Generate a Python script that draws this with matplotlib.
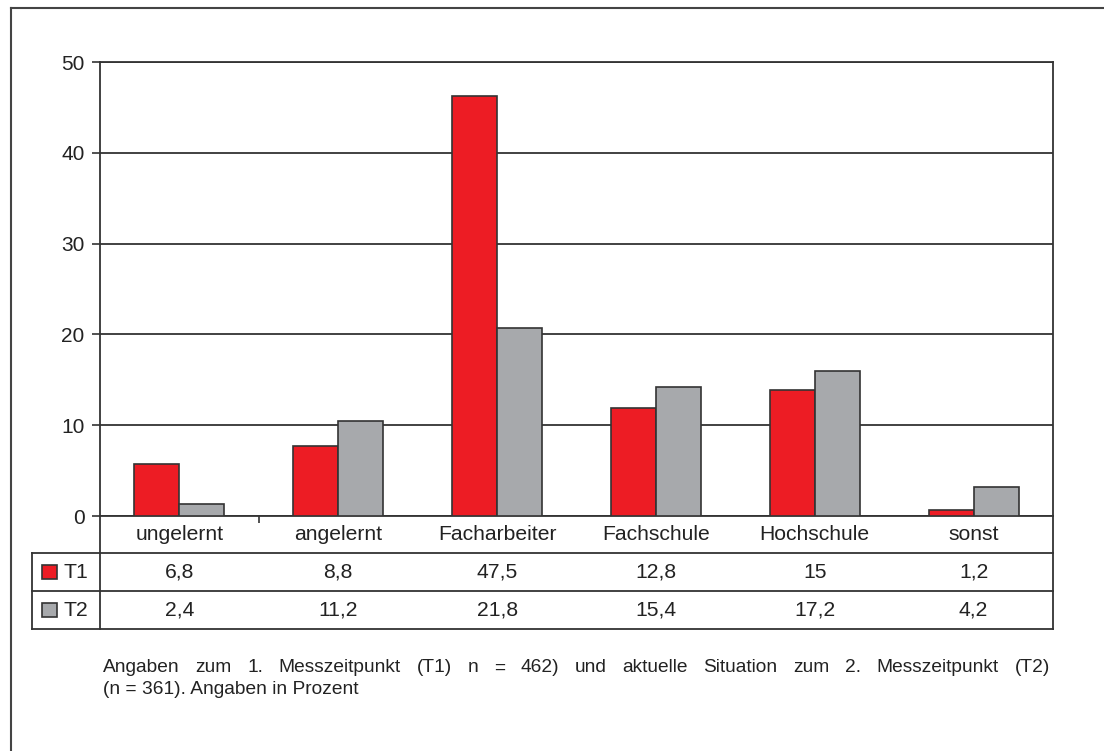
import matplotlib.pyplot as plt
from matplotlib.lines import Line2D
from matplotlib.patches import Rectangle
from matplotlib.transforms import blended_transform_factory
import numpy as np

plt.rcParams['font.family'] = ['Liberation Sans', 'DejaVu Sans']

categories = ['ungelernt', 'angelernt', 'Facharbeiter', 'Fachschule', 'Hochschule', 'sonst']
series = ['T1', 'T2']
# bar heights as drawn in the chart
t1_bars = [5.7, 7.7, 46.3, 11.9, 13.9, 0.7]
t2_bars = [1.35, 10.5, 20.7, 14.2, 16.0, 3.2]
# values printed in the data table
t1_table = [6.8, 8.8, 47.5, 12.8, 15, 1.2]
t2_table = [2.4, 11.2, 21.8, 15.4, 17.2, 4.2]
yticks = [0, 10, 20, 30, 40, 50]
caption = ['Angaben zum 1. Messzeitpunkt (T1) n = 462) und aktuelle Situation zum 2. Messzeitpunkt (T2)',
           '(n = 361). Angaben in Prozent']

red = '#ED1C24'
grey = '#A7A9AC'
edge = '#333333'
line_c = '#333333'
txt_c = '#222222'

W, H = 1104, 751
fig = plt.figure(figsize=(W / 100, H / 100), dpi=100)
ax = fig.add_axes([100 / W, 1 - 516 / H, 953 / W, 454 / H])

x = np.arange(len(categories))
bw = 0.283
ax.bar(x - bw / 2, t1_bars, bw, color=red, edgecolor=edge, linewidth=1.2, zorder=3)
ax.bar(x + bw / 2, t2_bars, bw, color=grey, edgecolor=edge, linewidth=1.2, zorder=3)

ax.set_xlim(-0.5, len(categories) - 0.5)
ax.set_ylim(0, 50)
ax.set_yticks(yticks)
ax.set_yticklabels([str(v) for v in yticks], fontsize=15, color=txt_c)
ax.set_xticks([0.5])
ax.set_xticklabels([''])
ax.tick_params(axis='y', length=6, width=1.2, color=line_c, pad=5)
ax.tick_params(axis='x', length=5, width=1.2, color=line_c)
ax.grid(axis='y', color=line_c, linewidth=1.3, zorder=0)
for s in ax.spines.values():
    s.set_color(line_c)
    s.set_linewidth(1.3)

# data table below the axes
ah = 454.0
aw = 953.0
def ay(py):
    return (516 - py) / ah
def axx(px):
    return (px - 100) / aw

tr = blended_transform_factory(ax.transData, ax.transAxes)
for xi, c in zip(x, categories):
    ax.text(xi, ay(535), c, transform=tr, ha='center', va='center', fontsize=15.2, color=txt_c, clip_on=False)

def fmt(v):
    return f'{v:g}'.replace('.', ',')

rows = [(t1_table, red, 'T1', 572), (t2_table, grey, 'T2', 610)]
for vals, col, name, py in rows:
    for xi, v in zip(x, vals):
        ax.text(xi, ay(py), fmt(v), transform=tr, ha='center', va='center', fontsize=15.2, color=txt_c, clip_on=False)
    ax.add_patch(Rectangle((axx(42), ay(py + 7)), 15 / aw, 14 / ah, transform=ax.transAxes,
                           facecolor=col, edgecolor=edge, linewidth=1.2, clip_on=False))
    ax.text(axx(64), ay(py), name, transform=ax.transAxes, ha='left', va='center', fontsize=15.2, color=txt_c, clip_on=False)

tlines = [
    ([axx(32), 1], [ay(553), ay(553)]),
    ([axx(32), 1], [ay(591), ay(591)]),
    ([axx(32), 1], [ay(629), ay(629)]),
    ([axx(32), axx(32)], [ay(553), ay(629)]),
    ([0, 0], [0, ay(629)]),
    ([1, 1], [0, ay(629)]),
]
for xs, ys in tlines:
    ax.plot(xs, ys, transform=ax.transAxes, color=line_c, linewidth=1.3, clip_on=False)

# caption: first line justified between x=103 and x=1050
renderer = fig.canvas.get_renderer()
words = caption[0].split(' ')
arts = [fig.text(0, 1 - 668 / H, w, ha='left', va='center', fontsize=13.8, color=txt_c) for w in words]
widths = [a.get_window_extent(renderer).width for a in arts]
gap = (1050 - 103 - sum(widths)) / (len(words) - 1)
px = 103.0
for a, w in zip(arts, widths):
    a.set_x(px / W)
    px += w + gap
fig.text(103 / W, 1 - 690 / H, caption[1], ha='left', va='center', fontsize=13.8, color=txt_c)

# outer frame (left and top edges)
fig.add_artist(Line2D([11 / W, 11 / W], [0, 1 - 8 / H], color='#444444', linewidth=1.5))
fig.add_artist(Line2D([11 / W, 1], [1 - 8 / H, 1 - 8 / H], color='#444444', linewidth=1.5))

fig.savefig('out.png', dpi=100)
